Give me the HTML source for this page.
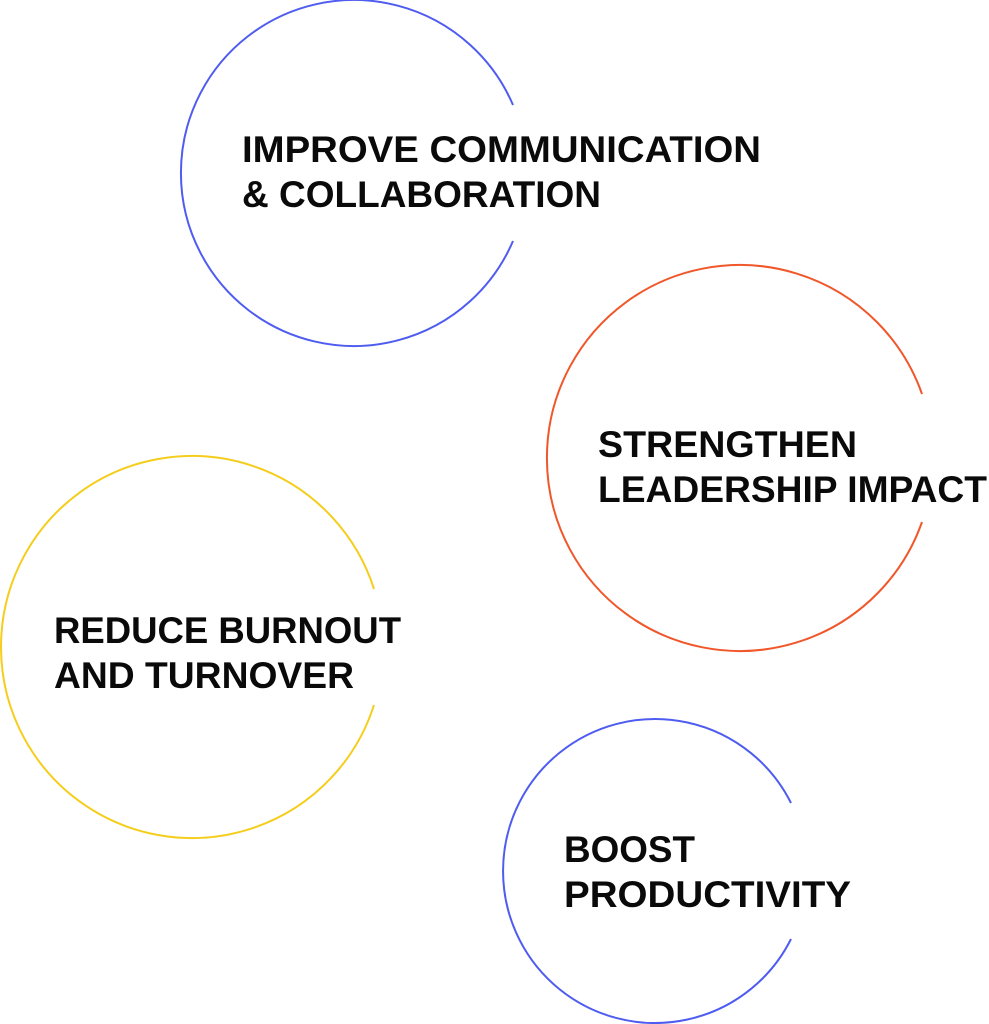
<!DOCTYPE html>
<html><head><meta charset="utf-8"><style>html,body{margin:0;padding:0;background:#fff}svg{display:block}</style></head>
<body>
<svg width="989" height="1024" viewBox="0 0 989 1024" xmlns="http://www.w3.org/2000/svg">
<g fill="none" stroke-width="2">
<path d="M513 105 A173 173 0 1 0 513 241" stroke="#4f5cf0"/>
<path d="M922 394 A193 193 0 1 0 922 522" stroke="#f0572a"/>
<path d="M374 589 A191 191 0 1 0 374 705" stroke="#f5cd1c"/>
<path d="M791 803 A152 152 0 1 0 791 939" stroke="#4f5cf0"/>
</g>
<g font-family="Liberation Sans, sans-serif" font-weight="bold" font-size="37" fill="#0a0a0a" lengthAdjust="spacingAndGlyphs">
<text x="242" y="162" textLength="519" lengthAdjust="spacingAndGlyphs">IMPROVE COMMUNICATION</text>
<text x="242" y="207" textLength="359" lengthAdjust="spacingAndGlyphs">&amp; COLLABORATION</text>
<text x="598" y="457" textLength="259" lengthAdjust="spacingAndGlyphs">STRENGTHEN</text>
<text x="598" y="502" textLength="389" lengthAdjust="spacingAndGlyphs">LEADERSHIP IMPACT</text>
<text x="54" y="643" textLength="347" lengthAdjust="spacingAndGlyphs">REDUCE BURNOUT</text>
<text x="54" y="688" textLength="300" lengthAdjust="spacingAndGlyphs">AND TURNOVER</text>
<text x="564" y="862" textLength="131" lengthAdjust="spacingAndGlyphs">BOOST</text>
<text x="564" y="907" textLength="287" lengthAdjust="spacingAndGlyphs">PRODUCTIVITY</text>
</g>
</svg>
</body></html>
